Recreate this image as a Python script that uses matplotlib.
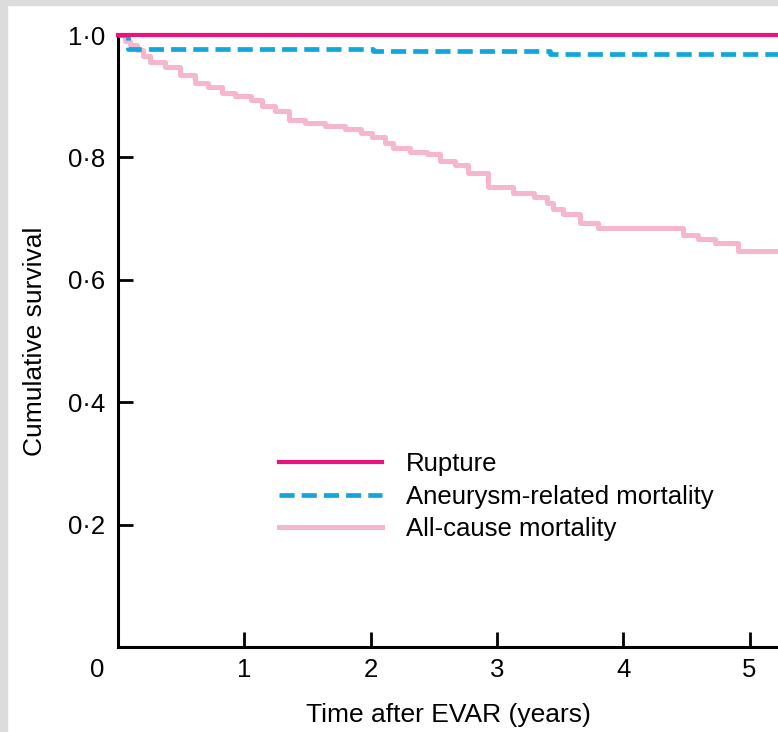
import matplotlib
matplotlib.use("Agg")
import matplotlib.pyplot as plt
from matplotlib.patches import Rectangle

plt.rcParams['font.family'] = ['Liberation Sans', 'DejaVu Sans']

# Kaplan-Meier style step data
t_all = [0.0, 0.055, 0.095, 0.15, 0.20, 0.25, 0.37, 0.49, 0.61, 0.71, 0.82, 0.93,
         1.05, 1.14, 1.24, 1.35, 1.48, 1.64, 1.80, 1.92, 2.01, 2.11, 2.18, 2.31,
         2.45, 2.55, 2.67, 2.77, 2.93, 3.13, 3.29, 3.40, 3.44, 3.52, 3.66, 3.80,
         4.47, 4.59, 4.73, 4.91, 5.23]
s_all = [1.0, 0.990, 0.984, 0.975, 0.965, 0.956, 0.948, 0.935, 0.922, 0.915, 0.906, 0.900,
         0.894, 0.884, 0.876, 0.862, 0.856, 0.851, 0.847, 0.840, 0.833, 0.823, 0.816, 0.809,
         0.806, 0.794, 0.788, 0.775, 0.752, 0.742, 0.736, 0.726, 0.716, 0.708, 0.693, 0.685,
         0.673, 0.667, 0.660, 0.647, 0.647]

t_aneu = [0.0, 0.08, 2.02, 3.42, 5.23]
s_aneu = [1.0, 0.978, 0.974, 0.969, 0.969]

t_rupt = [0.0, 5.23]
s_rupt = [1.0, 1.0]

xticks = [1, 2, 3, 4, 5]
yticks = [0.2, 0.4, 0.6, 0.8, 1.0]
ytick_labels = ["0·2", "0·4", "0·6", "0·8", "1·0"]

fig = plt.figure(figsize=(7.78, 7.32), dpi=100)
ax = fig.add_axes([0.1517, 0.1161, 0.8483, 0.836])

ax.step(t_all, s_all, where="post", color="#f8b6cd", lw=3.6, label="All-cause mortality",
        clip_on=False, zorder=2)
ax.step(t_aneu, s_aneu, where="post", color="#12a6dc", lw=3.4, linestyle=(0, (3.2, 1.5)),
        label="Aneurysm-related mortality", clip_on=False, zorder=3)
ax.step(t_rupt, s_rupt, where="post", color="#e8137c", lw=3.0, label="Rupture",
        clip_on=False, zorder=4)

ax.set_xlim(0, 5.225)
ax.set_ylim(0, 1.0)
ax.set_xticks(xticks)
ax.set_yticks(yticks)
ax.set_yticklabels(ytick_labels)
ax.tick_params(direction="in", length=11, width=2, labelsize=18.5, colors="black")
ax.tick_params(axis="x", pad=8)
ax.tick_params(axis="y", pad=9)
for side in ["top", "right"]:
    ax.spines[side].set_visible(False)
for side in ["left", "bottom"]:
    ax.spines[side].set_linewidth(2.2)

ax.text(-0.032, -0.038, "0", transform=ax.transAxes, ha="center", va="center", fontsize=18.5)

ax.set_xlabel("Time after EVAR (years)", fontsize=19)
ax.set_ylabel("Cumulative survival", fontsize=19)
ax.xaxis.set_label_coords(0.5, -0.092)
ax.yaxis.set_label_coords(-0.108, 0.5)

handles, labels = ax.get_legend_handles_labels()
ax.legend(handles[::-1], labels[::-1], loc="upper left", bbox_to_anchor=(0.244, 0.318),
          frameon=False, fontsize=18.5, handlelength=4.0, handletextpad=0.95,
          labelspacing=0.33, borderpad=0, borderaxespad=0)

# grey frame at the figure edges
fig.patches.append(Rectangle((0, 1 - 5 / 732), 1, 5 / 732, transform=fig.transFigure,
                             color="#dcdcdc", zorder=0))
fig.patches.append(Rectangle((0, 0), 7 / 778, 1, transform=fig.transFigure,
                             color="#dcdcdc", zorder=0))

fig.savefig("out.png", dpi=100)
